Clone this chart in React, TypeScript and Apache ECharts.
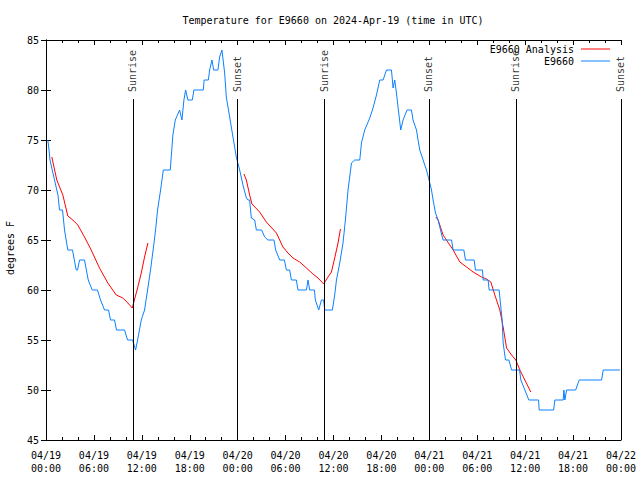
import React, { useEffect, useRef } from 'react';
import * as echarts from 'echarts';

const FONT = '"DejaVu Sans Mono", "Liberation Mono", monospace';

const titleText = 'Temperature for E9660 on 2024-Apr-19 (time in UTC)';
const yAxisName = 'degrees F';

// x axis in hours since 2024-04-19 00:00 UTC
const xTickLabels = [
  '04/19\n00:00', '04/19\n06:00', '04/19\n12:00', '04/19\n18:00',
  '04/20\n00:00', '04/20\n06:00', '04/20\n12:00', '04/20\n18:00',
  '04/21\n00:00', '04/21\n06:00', '04/21\n12:00', '04/21\n18:00',
  '04/22\n00:00',
];
const yTicks = [45, 50, 55, 60, 65, 70, 75, 80, 85];

// Observed E9660 temperatures
const obsHours = [
  0.23, 0.38, 0.50, 0.78, 1.07, 1.35, 1.50, 1.69, 2.07, 2.32, 2.73, 3.32, 3.78, 3.95, 4.20, 4.82,
  5.29, 5.79, 6.45, 6.83, 7.33, 7.83, 8.08, 8.58, 8.83, 9.84, 10.21, 10.84, 11.22, 11.47, 11.93,
  12.34, 12.72, 13.09, 13.41, 13.72, 13.97, 14.35, 14.69, 15.56, 15.89, 16.19, 16.73, 17.02,
  17.27, 17.48, 17.77, 18.32, 18.52, 19.70, 19.80, 20.33, 20.49, 20.78, 20.99, 21.53, 21.74,
  22.03, 22.37, 22.58, 23.00, 23.41, 23.83, 24.25, 24.66, 25.09, 25.29, 25.50, 25.71, 26.13,
  26.34, 27.00, 27.38, 27.79, 28.55, 28.76, 29.26, 29.85, 30.10, 30.51, 30.73, 31.35, 31.55,
  32.61, 32.81, 33.02, 33.61, 33.73, 34.15, 34.49, 34.77, 34.90, 35.86, 36.15, 36.37, 36.78,
  37.19, 37.49, 37.82, 38.25, 38.66, 39.29, 39.50, 39.91, 40.54, 40.95, 41.38, 41.79, 42.21,
  42.63, 43.26, 43.46, 43.67, 43.88, 44.17, 44.42, 44.71, 45.21, 45.76, 45.96, 46.39, 46.59,
  46.80, 47.22, 47.64, 48.06, 48.27, 48.47, 48.77, 49.10, 49.40, 49.72, 50.78, 50.98, 52.32,
  52.53, 53.61, 53.78, 54.66, 54.74, 55.36, 55.49, 56.74, 56.95, 57.12, 57.24, 57.54, 57.96,
  58.30, 59.30, 59.46, 59.96, 60.46, 61.68, 61.75, 63.56, 63.72, 64.76, 64.85, 64.97, 65.19,
  66.32, 66.77, 69.57, 69.77, 71.87,
];
const obsTemps = [
  75, 74, 73, 72, 71, 70, 69.5, 68, 68, 66, 64, 64, 62, 62, 63, 63,
  61, 60, 60, 59, 58, 58, 57, 57, 56, 56, 55, 55, 54, 55, 57,
  58, 60, 62, 64, 66, 68, 70, 72, 72, 75.5, 77, 78, 77,
  79, 80, 79, 79, 80, 80, 81, 81, 82, 83, 82, 82, 83.3,
  84, 81.7, 79.3, 77.3, 75.3, 73.3, 72, 70.5, 69.2, 69, 69, 67.2, 67,
  66, 66, 65.3, 65, 65, 64, 63, 63, 62, 62, 61, 61, 60,
  60, 61, 60, 60, 59, 58, 59, 59, 58, 58, 59.5, 61, 62.7,
  64.7, 67, 70, 72.7, 73, 73, 74.7, 76, 77.2, 78.2, 79.5, 81, 81,
  82, 82, 80.2, 81, 79.7, 77.7, 76, 77, 78, 78, 77, 76, 75,
  74, 73, 72, 70.7, 70, 69, 67.7, 67, 66, 65, 65, 64, 64,
  63, 63, 62, 62, 61, 61, 60, 60, 58.3, 57, 54.7, 53, 53,
  52, 52, 51, 50, 49, 49, 48, 48, 49, 49, 50, 49, 50,
  50, 51, 51, 52, 52,
];

// E9660 Analysis (three separate pieces)
const anaHours1 = [0.73, 1.35, 2.11, 2.73, 3.36, 3.98, 4.82, 5.66, 6.70, 7.74, 8.80, 9.62, 10.25, 10.80, 11.00, 11.50, 11.93, 12.34, 12.76];
const anaTemps1 = [73.3, 71, 69.5, 67.4, 67, 66.5, 65.3, 64, 62.2, 60.7, 59.5, 59.2, 58.7, 58.2, 58.8, 60.3, 61.7, 63.3, 64.7];
const anaHours2 = [24.79, 25.09, 25.50, 25.79, 26.75, 27.59, 28.85, 29.67, 30.30, 30.93, 31.77, 32.61, 33.43, 34.06, 34.77, 35.31, 35.74, 36.15, 36.57, 36.87];
const anaTemps2 = [71.6, 71, 69.5, 68.6, 67.8, 66.8, 65.7, 64.3, 63.7, 63.2, 62.8, 62.2, 61.6, 61.2, 60.6, 61.3, 61.8, 63.2, 64.7, 66.1];
const anaHours3 = [48.81, 49.10, 49.72, 50.98, 51.82, 52.66, 53.48, 54.54, 55.16, 55.70, 56.20, 56.83, 57.24, 57.67, 58.30, 58.83, 59.34, 59.96, 60.71];
const anaTemps3 = [67.3, 67, 65.5, 64, 62.8, 62.3, 61.8, 61.3, 61.1, 60.8, 59.5, 58, 56.3, 54.2, 53.5, 53, 52, 51, 49.8];

// Sunrise / Sunset
const sunHours = [10.87, 23.93, 34.83, 47.95, 58.85, 71.97];
const sunNames = ['Sunrise', 'Sunset', 'Sunrise', 'Sunset', 'Sunrise', 'Sunset'];
const sunLineTop = 79.1;
const sunLabelBase = 79.8;

const zip = (xs: number[], ys: number[]) => xs.map((x, i) => [x, ys[i]]);

const RED = '#ff0000';
const BLUE = '#0a80ff';

export default function App() {
  const ref = useRef<HTMLDivElement>(null);
  useEffect(() => {
    document.body.style.margin = '0';
    if (!ref.current) return;
    const chart = echarts.init(ref.current, undefined, { renderer: 'svg' });
    const textStyle = { fontFamily: FONT, fontSize: 10, color: '#000' };
    const xBase = {
      type: 'value' as const,
      min: 0,
      max: 72,
      interval: 6,
      axisLine: { show: true, lineStyle: { color: '#000', width: 1 } },
      axisTick: { show: true, inside: true, length: 5, lineStyle: { color: '#000' } },
      minorTick: { show: true, splitNumber: 3, length: 3, lineStyle: { color: '#000' } },
      splitLine: { show: false },
    };
    const yBase = {
      type: 'value' as const,
      min: 45,
      max: 85,
      interval: 5,
      axisLine: { show: true, lineStyle: { color: '#000', width: 1 } },
      axisTick: { show: true, inside: true, length: 5, lineStyle: { color: '#000' } },
      splitLine: { show: false },
    };
    const lineSeries = (name: string, data: number[][], color: string) => ({
      type: 'line' as const,
      name,
      data,
      showSymbol: false,
      symbol: 'none',
      color,
      lineStyle: { color, width: 1 },
      itemStyle: { color },
      silent: true,
    });
    chart.setOption({
      animation: false,
      backgroundColor: '#fff',
      textStyle,
      grid: { left: 46, right: 19, top: 40, bottom: 40, containLabel: false },
      graphic: [
        {
          type: 'text',
          x: 333,
          y: 20,
          style: { text: titleText, font: `10px ${FONT}`, fill: '#000', align: 'center', verticalAlign: 'middle' },
        },
        {
          type: 'text',
          x: 10,
          y: 248,
          rotation: Math.PI / 2,
          style: { text: yAxisName, font: `10px ${FONT}`, fill: '#000', align: 'center', verticalAlign: 'middle' },
        },
      ],
      legend: [
        {
          data: ['E9660 Analysis'],
          right: 30,
          top: 44,
          padding: 0,
          align: 'right',
          icon: 'rect',
          itemWidth: 29,
          itemHeight: 1,
          selectedMode: false,
          textStyle: { ...textStyle, padding: [0, 2, 0, 0] },
        },
        {
          data: ['E9660'],
          right: 30,
          top: 56,
          padding: 0,
          align: 'right',
          icon: 'rect',
          itemWidth: 29,
          itemHeight: 1,
          selectedMode: false,
          textStyle: { ...textStyle, padding: [0, 2, 0, 0] },
        },
      ],
      xAxis: [
        {
          ...xBase,
          position: 'bottom',
          axisLabel: {
            ...textStyle,
            margin: 9,
            lineHeight: 13,
            formatter: (v: number) => xTickLabels[Math.round(v / 6)] ?? '',
          },
        },
        { ...xBase, position: 'top', axisLabel: { show: false } },
      ],
      yAxis: [
        {
          ...yBase,
          position: 'left',
          axisLabel: {
            ...textStyle,
            margin: 7,
            formatter: (v: number) => (yTicks.includes(v) ? String(v) : ''),
          },
        },
        { ...yBase, position: 'right', axisLabel: { show: false } },
      ],
      series: [
        lineSeries('E9660 Analysis', zip(anaHours1, anaTemps1), RED),
        lineSeries('E9660 Analysis', zip(anaHours2, anaTemps2), RED),
        lineSeries('E9660 Analysis', zip(anaHours3, anaTemps3), RED),
        lineSeries('E9660', zip(obsHours, obsTemps), BLUE),
        {
          type: 'scatter',
          name: 'sun',
          symbolSize: 0,
          silent: true,
          data: sunHours.map((h, i) => ({ value: [h, sunLabelBase], name: sunNames[i] })),
          label: {
            show: true,
            formatter: '{b}',
            position: [0, 0],
            rotate: 90,
            align: 'left',
            verticalAlign: 'middle',
            ...textStyle,
          },
          markLine: {
            silent: true,
            symbol: ['none', 'none'],
            label: { show: false },
            lineStyle: { color: '#000', width: 1, type: 'solid' },
            data: sunHours.map((h) => [
              { coord: [h, sunLineTop] },
              { coord: [h, 45] },
            ]),
          },
        },
      ],
    });
    return () => chart.dispose();
  }, []);
  return <div ref={ref} style={{ width: 640, height: 480 }} />;
}
